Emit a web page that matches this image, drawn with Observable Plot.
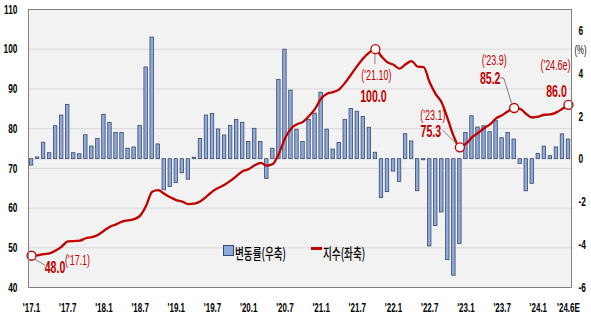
<!DOCTYPE html>
<html><head><meta charset="utf-8">
<script src="https://cdn.jsdelivr.net/npm/d3@7"></script>
<script src="https://cdn.jsdelivr.net/npm/@observablehq/plot@0.6"></script>
<style>
body{margin:0;background:#fff;}
#wrap{position:relative;width:591px;height:321px;overflow:hidden;background:#fff;}
.leg{position:absolute;font-family:"Noto Sans CJK KR","Noto Sans",sans-serif;font-size:15px;font-weight:500;color:#000;white-space:nowrap;transform:scaleX(0.64);transform-origin:0 0;line-height:17px;}
</style></head><body><div id="wrap"></div>
<script>
// ---- data ----
// monthly change rate (%), right axis, '17.1 .. '24.6E
const changeRate = [
  -0.30, 0.08, 0.77, 0.28, 1.54, 2.04, 2.54, 0.28, 0.23, 1.12, 0.59, 0.95,
   2.08, 1.70, 1.23, 1.23, 0.49, 0.55, 1.56, 4.29, 5.69, 0.69,-1.45,-1.30,
  -1.12,-0.66,-0.96, 0.07, 0.95, 2.04, 2.11, 1.39, 1.11, 1.56, 1.83, 1.70,
   0.80, 1.42, 0.80,-0.92, 0.49, 3.71, 5.12, 3.21, 1.38, 0.80, 1.84, 2.13,
   3.11, 1.38, 0.45, 0.76, 1.84, 2.35, 2.22, 1.98, 1.47, 0.30,-1.82,-1.54,
  -0.58,-1.06, 1.17, 0.83,-1.50,-0.05,-4.08,-3.13,-2.49,-4.72,-5.45,-3.97,
   1.23, 2.01, 1.48, 1.54, 1.26, 1.78, 0.98, 1.23, 0.92,-0.22,-1.50,-1.15,
   0.25, 0.59, 0.14, 0.55, 1.16, 0.92
];
// index level, left axis
const indexValue = [
  48.0, 48.1, 48.4, 48.6, 49.3, 50.3, 51.6, 51.7, 51.8, 52.4, 52.7, 53.2,
  54.3, 55.3, 55.9, 56.6, 56.9, 57.2, 58.1, 60.6, 64.1, 64.5, 63.6, 62.7,
  62.0, 61.6, 61.0, 61.1, 61.7, 62.9, 64.2, 65.1, 65.9, 66.9, 68.1, 69.3,
  69.8, 70.8, 71.4, 70.7, 71.1, 73.7, 77.5, 80.0, 81.1, 81.7, 83.2, 85.0,
  87.6, 88.8, 89.2, 89.9, 91.6, 93.7, 95.8, 97.7, 99.2, 100.0, 98.2, 96.7,
  96.1, 95.1, 96.2, 97.0, 95.6, 95.5, 91.6, 88.7, 86.5, 82.4, 78.0, 75.3,
  76.2, 77.8, 78.9, 80.1, 81.1, 82.6, 83.4, 84.4, 85.2, 85.0, 83.7, 82.8,
  83.0, 83.5, 83.6, 84.1, 85.0, 86.0
];
const xTickIdx = [0, 6, 12, 18, 24, 30, 36, 42, 48, 54, 60, 66, 72, 78, 84, 89];
const xTickLabels = ["'17.1","'17.7","'18.1","'18.7","'19.1","'19.7","'20.1","'20.7","'21.1","'21.7","'22.1","'22.7","'23.1","'23.7","'24.1","'24.6E"];
const leftTicks = [40, 50, 60, 70, 80, 90, 100, 110];
const rightTicks = [-6, -4, -2, 0, 2, 4, 6];
const annIdx = [0, 57, 71, 80, 89];
const annValueText = ["48.0", "100.0", "75.3", "85.2", "86.0"];
const annDateText = ["('17.1)", "('21.10)", "('23.1)", "('23.9)", "('24.6e)"];
const legendLabels = ["변동률(우축)", "지수(좌축)"];

// ---- layout (pixel offsets relative to the marked point) ----
const annLayout = [
  {vdx: 23.5, vdy: 11.5, ddx: 46, ddy: 5, leader: [[2,3],[14,10]]},
  {vdx: -2, vdy: 47, ddx: 1, ddy: 26, leader: [[0,4.5],[0,15.5]]},
  {vdx: -29, vdy: -16, ddx: -27, ddy: -32, leader: [[-17,-17],[-3,-3]]},
  {vdx: -24, vdy: -29, ddx: -20, ddy: -47, leader: [[-14,-29.5],[-10,-29.5],[-2,-4]]},
  {vdx: -12, vdy: -13, ddx: -13, ddy: -39, leader: null}
];
const SX = 0.64; // horizontal compression of the condensed typeface

const FONT = '"Liberation Sans",Arial,sans-serif';
const RED = "#C00000";
const pctToY = d3.scaleLinear([-6, 7], [40, 110]);

const rows = changeRate.map((v, i) => ({i, v, idx: indexValue[i]}));
const ann = annIdx.map((i, k) => ({i, y: indexValue[i], vt: annValueText[k], dt: annDateText[k], L: annLayout[k]}));

const leaderMark = (index, scales) => {
  const g = d3.create("svg:g").attr("fill", "none").attr("stroke", "#7F7F7F").attr("stroke-width", 1);
  for (const a of ann) {
    if (!a.L.leader) continue;
    const px = scales.x(a.i), py = scales.y(a.y);
    g.append("polyline").attr("points", a.L.leader.map(([dx, dy]) => `${px+dx},${py+dy}`).join(" "));
  }
  return g.node();
};

const annMarks = ann.flatMap(a => [
  Plot.text([a], {x: "i", y: "y", text: "vt", dx: a.L.vdx, dy: a.L.vdy, fill: RED, fontSize: 16.5, fontWeight: "bold", lineAnchor: "middle", textAnchor: "middle"}),
  Plot.text([a], {x: "i", y: "y", text: "dt", dx: a.L.ddx, dy: a.L.ddy, fill: RED, fontSize: 14, fontWeight: "normal", lineAnchor: "middle", textAnchor: "middle"})
]);

const chart = Plot.plot({
  width: 591, height: 321,
  marginLeft: 28, marginRight: 20, marginTop: 9, marginBottom: 34,
  x: {type: "linear", domain: [-0.5, 89.5], label: null},
  y: {domain: [40, 110], label: null},
  style: {fontFamily: FONT, fontSize: "12px", fontWeight: "bold", color: "#000", background: "transparent", overflow: "visible"},
  marks: [
    Plot.frame({fill: "#F2F2F2"}),
    Plot.gridY([50, 60, 70, 80, 90, 100], {stroke: "#D9D9D9", strokeOpacity: 1}),
    Plot.rectY(rows, {x1: d => d.i - 0.5, x2: d => d.i + 0.5, y1: d => pctToY(0), y2: d => pctToY(d.v),
      insetLeft: 1.3, insetRight: 1.3, fill: "#8FAADC", stroke: "#3A4868", strokeWidth: 0.8}),
    Plot.line(rows, {x: "i", y: "idx", stroke: RED, strokeWidth: 2.3, curve: "monotone-x"}),
    leaderMark,
    Plot.dot(ann, {x: "i", y: "y", r: 4.5, fill: "white", stroke: RED, strokeWidth: 1.3}),
    ...annMarks,
    Plot.axisY(leftTicks, {anchor: "left", label: null, tickSize: 0, tickPadding: 11, tickFormat: d => String(d), fontSize: 13}),
    Plot.axisY(rightTicks.map(t => pctToY(t)), {anchor: "right", label: null, tickSize: 0, tickPadding: 7,
      tickFormat: v => String(Math.round(pctToY.invert(v))), fontSize: 13}),
    Plot.axisX(xTickIdx, {anchor: "bottom", label: null, tickSize: 0, tickPadding: 16,
      tickFormat: v => xTickLabels[xTickIdx.indexOf(v)], fontSize: 12.5}),
    Plot.text(["(%)"], {frameAnchor: "top-right", dx: 9, dy: 41, text: d => d, fontSize: 12, fontWeight: "normal", textAnchor: "middle", lineAnchor: "middle"}),
    Plot.frame({stroke: "#7F7F7F", strokeWidth: 1})
  ]
});

// compress every text horizontally around its own anchor
chart.querySelectorAll("text").forEach(el => {
  const tr = el.getAttribute("transform");
  if (tr) {
    el.setAttribute("transform", tr + ` scale(${SX},1)`);
  } else {
    const x = +(el.getAttribute("x") || 0), y = +(el.getAttribute("y") || 0);
    el.removeAttribute("x"); el.removeAttribute("y");
    el.setAttribute("transform", `translate(${x},${y}) scale(${SX},1)`);
  }
});

const wrap = document.getElementById("wrap");
wrap.appendChild(chart);

// legend overlay
const box = document.createElement("div");
box.style.cssText = "position:absolute;left:223px;top:245px;width:9px;height:9px;background:#8FAADC;border:1px solid #3A4868;";
wrap.appendChild(box);
const t1 = document.createElement("div");
t1.className = "leg"; t1.style.left = "235px"; t1.style.top = "244px"; t1.textContent = legendLabels[0];
wrap.appendChild(t1);
const ln = document.createElement("div");
ln.style.cssText = "position:absolute;left:311px;top:247px;width:11px;height:3px;background:" + RED + ";";
wrap.appendChild(ln);
const t2 = document.createElement("div");
t2.className = "leg"; t2.style.left = "323px"; t2.style.top = "244px"; t2.textContent = legendLabels[1];
wrap.appendChild(t2);
</script></body></html>
